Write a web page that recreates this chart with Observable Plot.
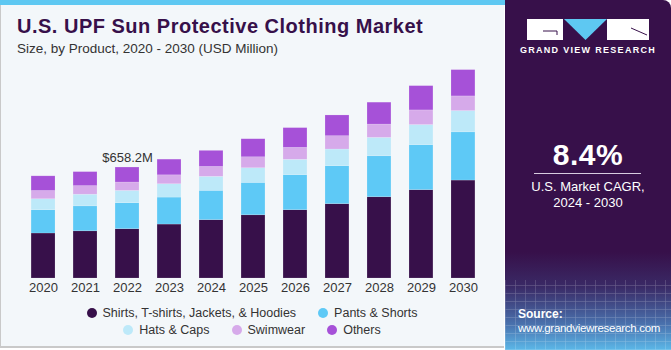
<!DOCTYPE html>
<html>
<head>
<meta charset="utf-8">
<script src="https://cdn.jsdelivr.net/npm/d3@7"></script>
<script src="https://cdn.jsdelivr.net/npm/@observablehq/plot@0.6"></script>
<style>
  html, body { margin: 0; padding: 0; background: #ffffff; }
  body { width: 671px; height: 350px; overflow: hidden; font-family: "Liberation Sans", Arial, sans-serif; }
  #wrap { position: relative; width: 671px; height: 350px; }
  #left { position: absolute; left: 0; top: 0; width: 504px; height: 348px; background: #f3f7fa; border-left: 1px solid #c9c9c9; border-bottom: 2px solid #c9c9c9; box-sizing: border-box; }
  #stripe { position: absolute; left: 0; top: 0; width: 506px; height: 5px; background: #5ec8f2; }
  #title { position: absolute; left: 17px; top: 15px; font-size: 20px; font-weight: 900; color: #37104a; letter-spacing: 0.5px; white-space: nowrap; }
  #subtitle { position: absolute; left: 17px; top: 41px; font-size: 13.5px; color: #333; white-space: nowrap; }
  #chart { position: absolute; left: 0; top: 0; }
  #legend { position: absolute; left: 0; top: 305px; width: 504px; font-size: 12.5px; color: #333; }
  .row { display: flex; justify-content: center; gap: 22px; height: 16.5px; align-items: center; }
  .item { display: flex; align-items: center; white-space: nowrap; }
  .dot { width: 10px; height: 10px; border-radius: 50%; margin-right: 6px; display: inline-block; }
  #right { position: absolute; left: 505px; top: 0; width: 166px; height: 350px; border-top-right-radius: 8px; overflow: hidden;
    background: linear-gradient(180deg, #37104a 0%, #37104a 72%, #3a2a66 82%, #4a74b0 93%, #5cb8e8 100%); }
  #grid { position: absolute; left: 0; top: 280px; width: 166px; height: 70px; opacity: 0.25;
    background-image: repeating-linear-gradient(90deg, rgba(255,255,255,0.6) 0 1px, transparent 1px 10px), repeating-linear-gradient(0deg, rgba(255,255,255,0.6) 0 1px, transparent 1px 8px); }
  .rt { position: absolute; left: 0; width: 166px; text-align: center; color: #fff; }
  .box { position: absolute; top: 19px; height: 21px; background: #ffffff; }
</style>
</head>
<body>
<div id="wrap">
  <div id="left"></div>
  <div id="stripe"></div>
  <div id="chart"></div>
  <div id="title">U.S. UPF Sun Protective Clothing Market</div>
  <div id="subtitle">Size, by Product, 2020 - 2030 (USD Million)</div>
  <div id="legend"></div>
  <div id="right">
    <div id="grid"></div>
    <div class="box" style="left:22px;width:36px;"></div>
    <div class="box" style="left:102px;width:42px;"></div>
    <svg style="position:absolute;left:22px;top:19px" width="122" height="21">
      <path d="M16 12 H30 V16" stroke="#37104a" stroke-width="1" fill="none"/>
      <polygon points="37,0 80,0 58.5,21" fill="#5ec8f2"/>
      <path d="M104 9 L120 16" stroke="#37104a" stroke-width="1" fill="none"/>
    </svg>
    <div class="rt" style="top:45px;font-size:9px;font-weight:bold;letter-spacing:1.3px;">GRAND VIEW RESEARCH</div>
    <div class="rt" style="top:138px;font-size:30px;font-weight:bold;letter-spacing:0.5px;">8.4%</div>
    <div style="position:absolute;left:29px;top:173px;width:107px;height:1px;background:#d8cce0;"></div>
    <div class="rt" style="top:179px;font-size:13px;">U.S. Market CAGR,</div>
    <div class="rt" style="top:195px;font-size:13px;">2024 - 2030</div>
    <div style="position:absolute;left:13px;top:307px;color:#fff;font-size:12px;font-weight:bold;">Source:</div>
    <div style="position:absolute;left:13px;top:322px;color:#fff;font-size:11.5px;letter-spacing:-0.3px;white-space:nowrap;">www.grandviewresearch.com</div>
  </div>
</div>
<script>
const years = ["2020","2021","2022","2023","2024","2025","2026","2027","2028","2029","2030"];
const categories = ["Shirts, T-shirts, Jackets, & Hoodies", "Pants & Shorts", "Hats & Caps", "Swimwear", "Others"];
const colors = ["#37104a", "#5ec9f6", "#bde9f9", "#d6aaea", "#a651d8"];
const shirts = [267, 280, 292.4, 320, 346, 375, 405, 441, 482, 524, 581];
const pants  = [138, 148, 154.2, 160, 174, 192, 208, 225, 243, 267, 286];
const hats   = [65, 69, 72.9, 79, 83, 87, 91, 99, 109, 119, 126];
const swim   = [49, 51, 49.8, 53, 59, 65, 71, 79, 79, 87, 87];
const others = [87, 83, 88.9, 93, 95, 107, 117, 123, 130, 144, 156];
const annotationYear = "2022";
const annotationLabel = "$658.2M";

const series = [shirts, pants, hats, swim, others];
const rows = [];
categories.forEach((c, i) => years.forEach((y, j) => rows.push({year: y, cat: c, value: series[i][j]})));
const totals = years.map((y, j) => ({year: y, total: d3.sum(series, s => s[j])}));
const ann = totals.filter(d => d.year === annotationYear).map(d => ({...d, label: annotationLabel}));

const chart = Plot.plot({
  width: 505,
  height: 300,
  marginTop: 60,
  marginBottom: 22,
  marginLeft: 13,
  marginRight: 12,
  style: {background: "transparent", fontFamily: "'Liberation Sans', Arial, sans-serif"},
  x: {domain: years, padding: 0.43, round: false, label: null},
  y: {domain: [0, 1293], axis: null},
  color: {domain: categories, range: colors},
  marks: [
    Plot.barY(rows, {x: "year", y: "value", fill: "cat", order: categories, stroke: "#ffffff", strokeOpacity: 0.25, strokeWidth: 0.6}),
    Plot.text(ann, {x: "year", y: "total", text: "label", dy: -10, fontSize: 13, fill: "#333"}),
    Plot.axisX({tickSize: 0, tickPadding: 4, fontSize: 13, color: "#333", label: null})
  ]
});
document.getElementById("chart").appendChild(chart);

const legend = document.getElementById("legend");
const layout = [[0, 1], [2, 3, 4]];
layout.forEach(r => {
  const row = document.createElement("div");
  row.className = "row";
  r.forEach(i => {
    const it = document.createElement("div");
    it.className = "item";
    it.innerHTML = `<span class="dot" style="background:${colors[i]}"></span>${categories[i]}`;
    row.appendChild(it);
  });
  legend.appendChild(row);
});
</script>
</body>
</html>
